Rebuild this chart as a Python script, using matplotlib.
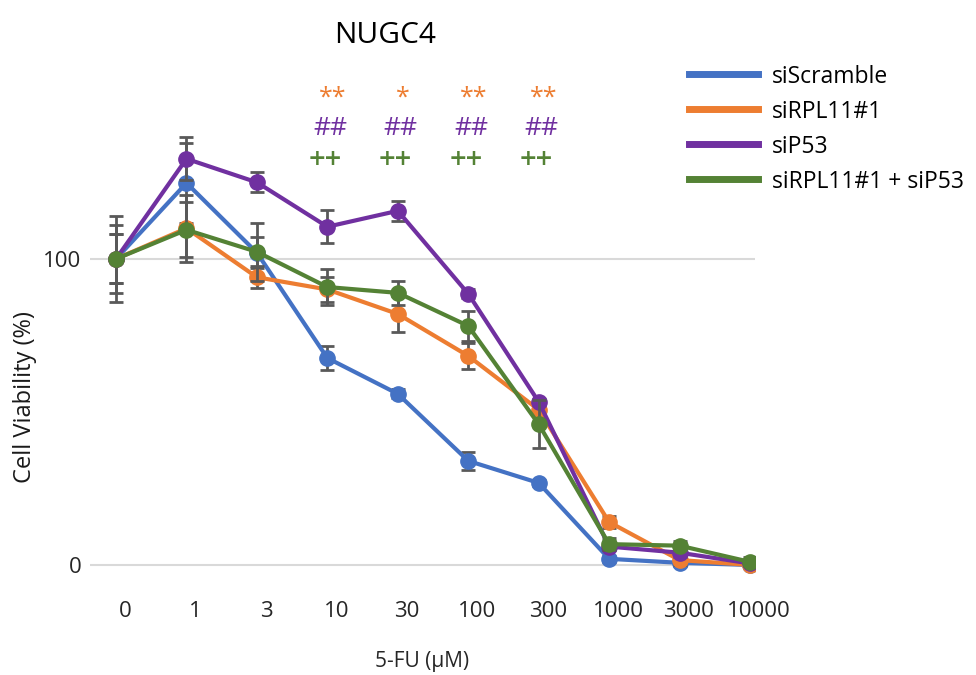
import matplotlib
matplotlib.use("Agg")
import matplotlib.pyplot as plt
from matplotlib.transforms import ScaledTranslation

plt.rcParams['font.family'] = ['Open Sans', 'DejaVu Sans']

# data
doses = ['0', '1', '3', '10', '30', '100', '300', '1000', '3000', '10000']
names = ['siScramble', 'siRPL11#1', 'siP53', 'siRPL11#1 + siP53']
colors = ['#4472C4', '#ED7D31', '#7030A0', '#548235']

scramble = [100, 124.8, 102, 67.6, 55.9, 34, 26.8, 2, 0.7, 0]
rpl11 = [100, 110, 94, 90, 82, 68.3, 50.7, 14, 1.6, 0]
p53 = [100, 132.7, 125, 110.5, 115.7, 88.6, 53.3, 6, 4, 0.5]
combo = [100, 109.5, 102.3, 90.8, 88.9, 78.1, 46, 6.8, 6.3, 1]

scramble_err = [14, 13, 5, 3.8, 1.5, 3, 1, 1, 1, 0.5]
rpl11_err = [11, 11, 3.6, 4, 6, 4.3, 2, 2, 1.5, 0.5]
p53_err = [8, 7, 3.3, 5.4, 3.3, 1.5, 1, 1, 1.5, 0.5]
combo_err = [8, 9, 9.5, 6, 4, 5, 7.8, 2, 1.5, 1.5]

# significance marks above doses 10, 30, 100, 300
sig_pos = [3, 4, 5, 6]
star_marks = ['**', '*', '**', '**']
hash_marks = ['##', '##', '##', '##']
plus_marks = ['++', '++', '++', '++']

fig = plt.figure(figsize=(9.76, 6.75), dpi=100)
ax = fig.add_axes([0.0922, 0.1449, 0.6813, 0.6756])

x = list(range(len(doses)))
series = [scramble, rpl11, p53, combo]
errs = [scramble_err, rpl11_err, p53_err, combo_err]
for i in range(4):
    ax.errorbar(x, series[i], yerr=errs[i], color=colors[i], lw=3,
                marker='o', ms=11, ecolor='#595959', elinewidth=2,
                capsize=5, capthick=2, label=names[i], zorder=3 + i)

ax.set_xlim(-0.37, 9.07)
ax.set_ylim(-4, 145)
ax.set_yticks([0, 100])
ax.set_xticks(x)
ax.set_xticklabels(doses)
ax.grid(axis='y', color='#D9D9D9', lw=1.5)
ax.set_axisbelow(True)
for s in ax.spines.values():
    s.set_visible(False)
ax.tick_params(axis='both', length=0, labelsize=16, colors='#262626')
ax.tick_params(axis='x', pad=17)
ax.tick_params(axis='y', pad=6)
for lab in ax.get_xticklabels():
    lab.set_transform(lab.get_transform() + ScaledTranslation(0.09, 0, fig.dpi_scale_trans))

ax.set_ylabel('Cell Viability (%)', fontsize=17, color='#1a1a1a', va='center')
ax.yaxis.set_label_coords(-0.098, 0.395)
ax.set_xlabel('5-FU (\u00b5M)', fontsize=15, color='#262626', labelpad=21)
fig.text(0.395, 0.948, 'NUGC4', fontsize=21.5, ha='center', va='center')

for k in range(len(sig_pos)):
    p = sig_pos[k]
    ax.text(p + 0.07, 152.5, star_marks[k], color='#ED7D31', fontsize=18,
            ha='center', va='center')
    ax.text(p + 0.04, 142.5, hash_marks[k], color='#7030A0', fontsize=19,
            ha='center', va='center')
    ax.text(p - 0.03, 132, plus_marks[k], color='#548235', fontsize=21,
            fontweight='semibold', ha='center', va='center')

handles = [plt.Line2D([], [], color=c, lw=5) for c in colors]
fig.legend(handles, names, loc='upper left', bbox_to_anchor=(0.685, 0.935),
           frameon=False, fontsize=16.5, handlelength=3.0, labelspacing=0.48,
           handletextpad=0.6)

fig.savefig('out.png', dpi=100)
